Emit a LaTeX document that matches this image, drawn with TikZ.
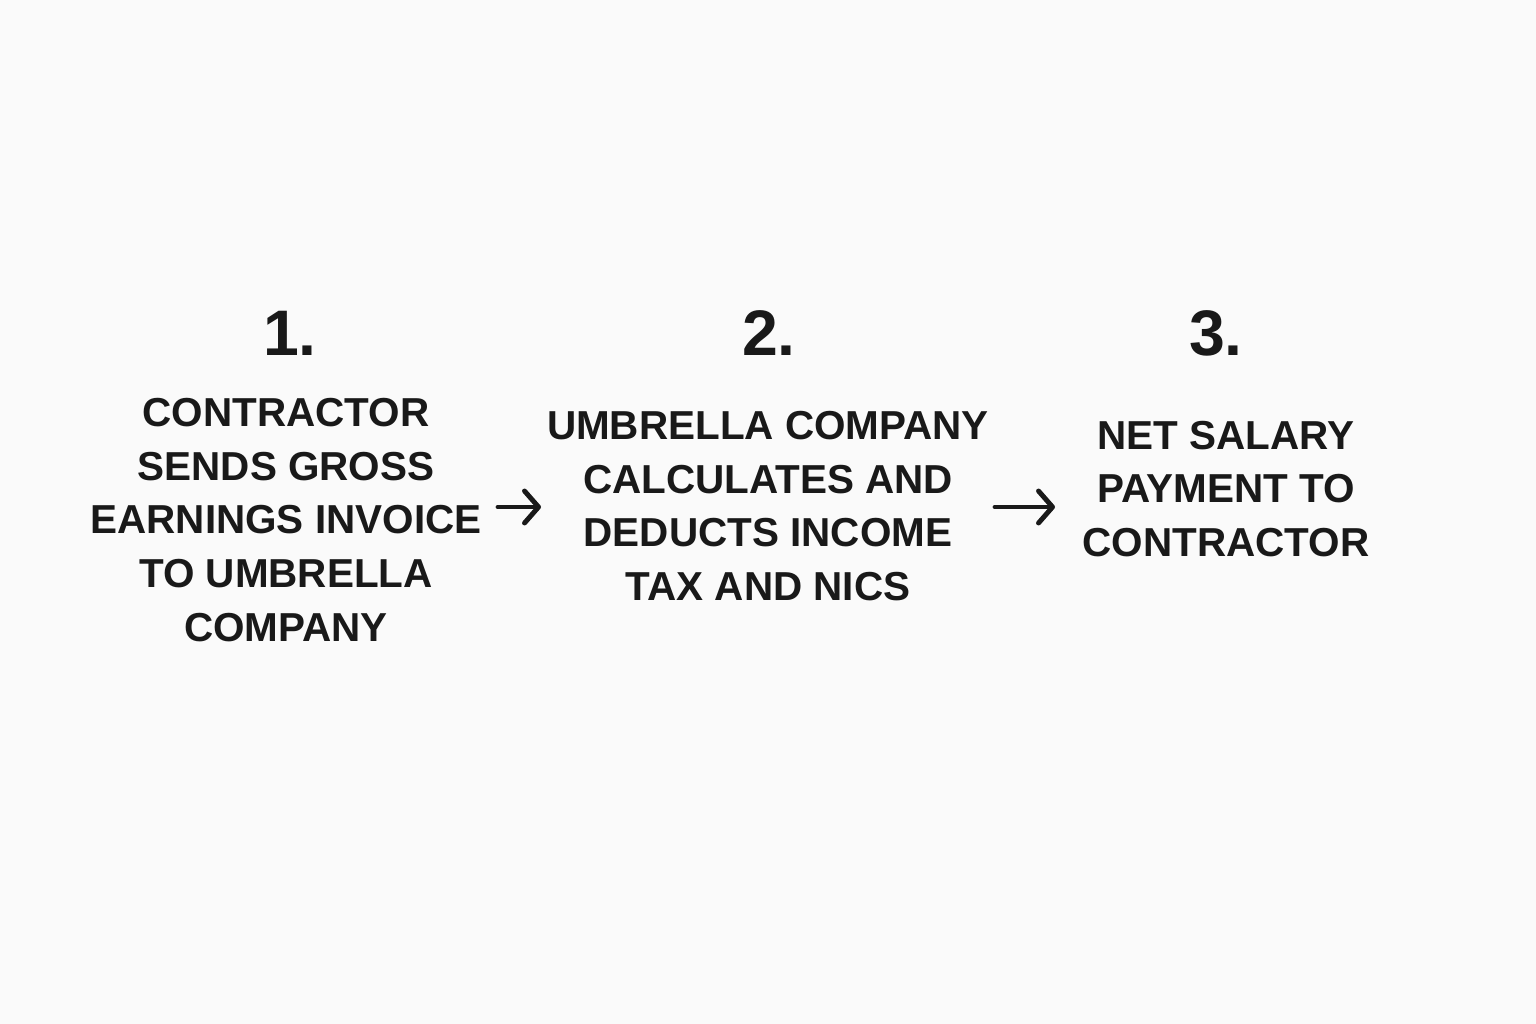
\documentclass[tikz,border=0pt]{standalone}
\usepackage{fontspec}
\setmainfont{Liberation Sans}
\usetikzlibrary{arrows.meta}
\begin{document}
\begin{tikzpicture}[x=0.01cm,y=-0.01cm,
  numlabel/.style={font=\bfseries\fontsize{18.3}{22}\selectfont, text=black!90, inner sep=0pt},
  steptext/.style={font=\bfseries\fontsize{11.5}{15.3}\selectfont, text=black!90, align=center, inner sep=0pt},
  flowarrow/.style={line width=1.4pt, draw=black!90, line cap=round, -{Straight Barb[length=0.14cm,width=0.32cm,line width=1.4pt,round]}}]
\fill[white!98!black] (0,0) rectangle (1536,1024);
\useasboundingbox (0,0) rectangle (1536,1024);
\node[numlabel] (n1) at (290,333) {1.};
\node[numlabel] (n2) at (769,333) {2.};
\node[numlabel] (n3) at (1216,333) {3.};
\node[steptext] (s1) at (286,520) {CONTRACTOR\\SENDS GROSS\\EARNINGS INVOICE\\TO UMBRELLA\\COMPANY};
\node[steptext] (s2) at (768,506) {UMBRELLA COMPANY\\CALCULATES AND\\DEDUCTS INCOME\\TAX AND NICS};
\node[steptext] (s3) at (1226,489) {NET SALARY\\PAYMENT TO\\CONTRACTOR};
\coordinate (a1s) at (498,507);
\coordinate (a1e) at (541,507);
\coordinate (a2s) at (995,507);
\coordinate (a2e) at (1055,507);
\draw[flowarrow] (a1s) -- (a1e);
\draw[flowarrow] (a2s) -- (a2e);
\end{tikzpicture}
\end{document}
